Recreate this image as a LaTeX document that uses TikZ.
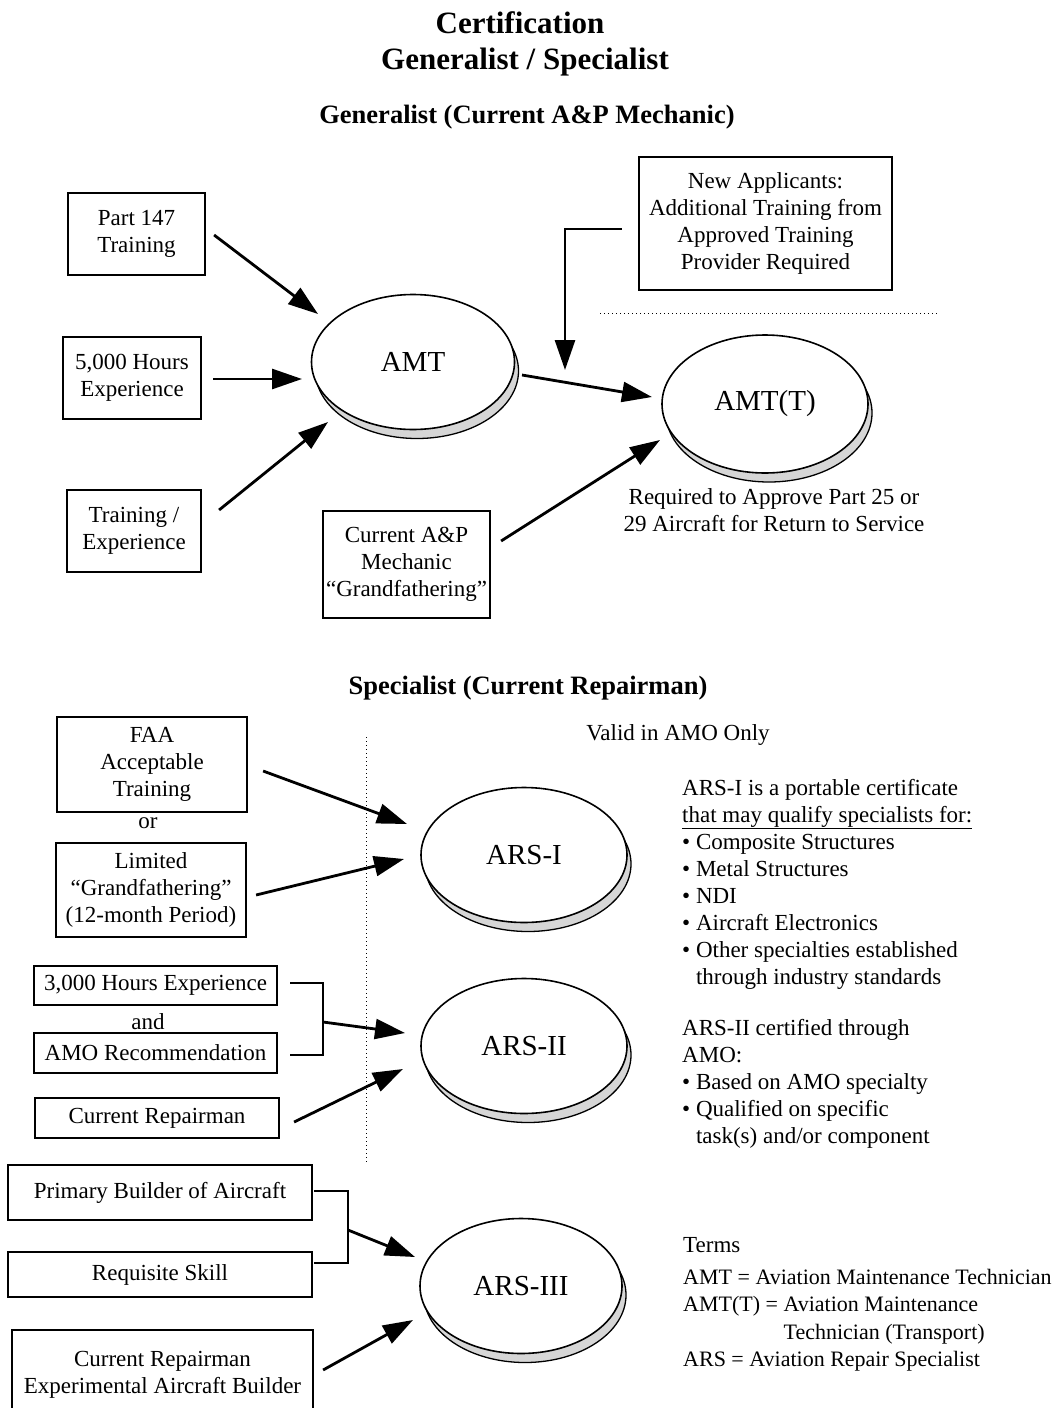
\documentclass[tikz,border=0pt]{standalone}
\usepackage{fontspec}
\setmainfont{Liberation Serif}
\usetikzlibrary{arrows.meta,shapes.geometric,shadows}
\begin{document}
\begin{tikzpicture}[x=1pt,y=-1pt,
  box/.style={draw, line width=2.2pt, align=center, inner sep=0pt,
    font=\fontsize{23}{27}\selectfont},
  ell/.style={ellipse, draw, line width=1.6pt, fill=white, inner sep=0pt,
    font=\fontsize{29}{34}\selectfont,
    drop shadow={shadow xshift=4pt, shadow yshift=-9pt, fill=black!16,
      draw=black, line width=1.3pt, opacity=1}},
  txt/.style={inner sep=0pt, align=left, anchor=north west,
    font=\fontsize{23}{27}\selectfont},
  plain/.style={inner sep=0pt, align=center, font=\fontsize{23}{27}\selectfont},
  title/.style={inner sep=0pt, align=center, font=\bfseries\fontsize{31}{38}\selectfont},
  subtitle/.style={inner sep=0pt, align=center, font=\bfseries\fontsize{26.5}{32}\selectfont},
  arr/.style={line width=2.8pt, -{Triangle[length=30pt,width=20pt]}},
  link/.style={line width=2.4pt},
  dots/.style={line width=1pt, dash pattern=on 1pt off 3pt},
]
\fill[white] (0,0) rectangle (1064,1408);
\useasboundingbox (0,0) rectangle (1064,1408);

% titles
\node[title] (t1) at (520,23) {Certification};
\node[title] (t2) at (525,62) {Generalist / Specialist};
\node[subtitle] (t3) at (527,117) {Generalist (Current A\&P Mechanic)};
\node[subtitle] (t4) at (528,688) {Specialist (Current Repairman)};

% ---------- Generalist ----------
\node[box, minimum width=137pt, minimum height=82pt] (p147) at (136.5,234) {Part 147\\Training};
\node[box, minimum width=138pt, minimum height=82pt] (h5000) at (132,378) {5,000 Hours\\Experience};
\node[box, minimum width=134pt, minimum height=82pt] (trexp) at (134,531) {Training /\\Experience};
\node[box, minimum width=253pt, minimum height=133pt] (newapp) at (765.5,223.5)
  {New Applicants:\\Additional Training from\\Approved Training\\Provider Required};
\node[box, minimum width=167pt, minimum height=107pt] (curap) at (406.5,564.5)
  {Current A\&P\\Mechanic\\“Grandfathering”};

\node[ell, minimum width=203pt, minimum height=135pt] (amt) at (413,362) {AMT};
\node[ell, minimum width=206pt, minimum height=138pt] (amtt) at (765,404) {AMT(T)};

\node[plain] (req25) at (774,510) {Required to Approve Part 25 or\\29 Aircraft for Return to Service};

\coordinate (dl1) at (600,313);
\coordinate (dl2) at (937,313);
\draw[dots] (dl1) -- (dl2);

\draw[arr] ([shift={(8,1)}]p147.east) -- ([shift={(-95,-48)}]amt.center);
\draw[arr] ([shift={(11,1)}]h5000.east) -- ([shift={(-111,17)}]amt.center);
\draw[arr] ([shift={(17,-21)}]trexp.east) -- ([shift={(-85,60)}]amt.center);
\draw[arr] ([shift={(109,13)}]amt.center) -- ([shift={(-113,-7)}]amtt.center);
\draw[arr] ([shift={(10,-23.5)}]curap.east) -- ([shift={(-105,36)}]amtt.center);
\coordinate (natip) at (565,370);
\draw[arr] ([shift={(-16,5.5)}]newapp.west) -| (natip);

% ---------- Specialist ----------
\node[plain] (valid) at (678,735) {Valid in AMO Only};

\node[box, minimum width=190pt, minimum height=95pt] (faa) at (152,764.5) {FAA\\Acceptable\\Training};
\node[plain] (or) at (148,823) {or};
\node[box, minimum width=190pt, minimum height=94pt] (lim) at (151,890)
  {Limited\\“Grandfathering”\\(12-month Period)};
\node[box, minimum width=243pt, minimum height=39pt] (h3000) at (155.5,985.5) {3,000 Hours Experience};
\node[plain] (and) at (148,1022) {and};
\node[box, minimum width=243pt, minimum height=40pt] (amorec) at (155.5,1053) {AMO Recommendation};
\node[box, minimum width=244pt, minimum height=40pt] (currep) at (157,1118) {Current Repairman};
\node[box, minimum width=304pt, minimum height=55pt] (prim) at (160,1192.5) {Primary Builder of Aircraft};
\node[box, minimum width=304pt, minimum height=45pt] (reqs) at (160,1274.5) {Requisite Skill};
\node[box, minimum width=301pt, minimum height=90pt] (curexp) at (162.5,1375)
  {Current Repairman\\Experimental Aircraft Builder};

\coordinate (vl1) at (366,737);
\coordinate (vl2) at (366,1163);
\draw[dots] (vl1) -- (vl2);

\node[ell, minimum width=206pt, minimum height=135pt] (ars1) at (524,855) {ARS-I};
\node[ell, minimum width=206pt, minimum height=135pt] (ars2) at (524,1046) {ARS-II};
\node[ell, minimum width=202pt, minimum height=135pt] (ars3) at (521,1286) {ARS-III};

\draw[arr] ([shift={(15,6.5)}]faa.east) -- ([shift={(-117,-31)}]ars1.center);
\draw[arr] ([shift={(9,5)}]lim.east) -- ([shift={(-120,4)}]ars1.center);

\coordinate (b1) at (323,1022);
\draw[link] ([shift={(12,-2.5)}]h3000.east) -| (b1) |- ([shift={(12,2)}]amorec.east);
\draw[arr] (b1) -- ([shift={(-119,-13)}]ars2.center);
\draw[arr] ([shift={(14,4)}]currep.east) -- ([shift={(-121,23)}]ars2.center);

\coordinate (b2) at (348,1230);
\draw[link] ([shift={(1,-1.5)}]prim.east) -| (b2) |- ([shift={(1,-11.5)}]reqs.east);
\draw[arr] (b2) -- ([shift={(-106,-29)}]ars3.center);
\draw[arr] ([shift={(9,-5)}]curexp.east) -- ([shift={(-108,34)}]ars3.center);

% right-hand texts
\node[txt] (ars1txt) at (682,776)
  {\strut ARS-I is a portable certificate\\
   \underline{that may qualify specialists for:}\\
   • Composite Structures\\
   • Metal Structures\\
   • NDI\\
   • Aircraft Electronics\\
   • Other specialties established\\
   \phantom{• }through industry standards};
\node[txt] (ars2txt) at (682,1016)
  {\strut ARS-II certified through\\
   AMO:\\
   • Based on AMO specialty\\
   • Qualified on specific\\
   \phantom{• }task(s) and/or component};
\node[txt] (terms) at (683,1233) {\strut Terms};
\node[txt, font=\fontsize{22}{27.5}\selectfont] (defs) at (683,1265)
  {\strut AMT = Aviation Maintenance Technician\\
   AMT(T) = Aviation Maintenance\\
   \phantom{AMT(T) = }Technician (Transport)\\
   ARS = Aviation Repair Specialist};
\end{tikzpicture}
\end{document}
